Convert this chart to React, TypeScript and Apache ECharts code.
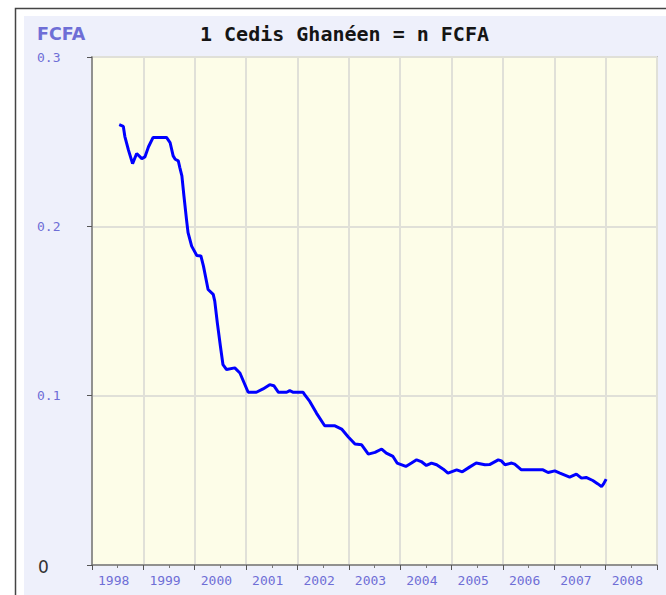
import React, { useEffect, useRef } from "react";
import * as echarts from "echarts";

const TITLE = "1 Cedis Ghanéen = n FCFA";
const UNIT = "FCFA";
const YEAR_LABELS = ["1998", "1999", "2000", "2001", "2002", "2003", "2004", "2005", "2006", "2007", "2008"];

// fractional year of each observation
const DATES = [
  1998.53, 1998.61, 1998.64, 1998.71, 1998.79, 1998.87, 1998.97, 1999.03, 1999.10, 1999.19,
  1999.45, 1999.52, 1999.58, 1999.62, 1999.68, 1999.71, 1999.75, 1999.79, 1999.84, 1999.87,
  1999.94, 2000.04, 2000.12, 2000.17, 2000.26, 2000.36, 2000.39, 2000.44, 2000.50, 2000.55,
  2000.62, 2000.78, 2000.88, 2001.04, 2001.20, 2001.33, 2001.46, 2001.54, 2001.63, 2001.79,
  2001.85, 2001.92, 2002.11, 2002.14, 2002.24, 2002.37, 2002.53, 2002.73, 2002.86, 2002.99,
  2003.12, 2003.25, 2003.38, 2003.51, 2003.64, 2003.73, 2003.86, 2003.94, 2004.11, 2004.22,
  2004.32, 2004.41, 2004.51, 2004.61, 2004.71, 2004.84, 2004.93, 2005.10, 2005.21, 2005.35,
  2005.48, 2005.65, 2005.74, 2005.91, 2005.97, 2006.04, 2006.17, 2006.23, 2006.36, 2006.78,
  2006.88, 2007.01, 2007.11, 2007.30, 2007.43, 2007.53, 2007.62, 2007.75, 2007.85, 2007.92,
  2007.96, 2008.01,
];

// FCFA per Cedi
const RATES = [
  0.260, 0.259, 0.253, 0.245, 0.237, 0.243, 0.240, 0.241, 0.247, 0.2525,
  0.2525, 0.2495, 0.2416, 0.2396, 0.2387, 0.2347, 0.2298, 0.2179, 0.204, 0.1963,
  0.1883, 0.1828, 0.1825, 0.1765, 0.1627, 0.1598, 0.1558, 0.143, 0.1292, 0.1183,
  0.1154, 0.1164, 0.1134, 0.102, 0.102, 0.104, 0.1065, 0.1059, 0.102, 0.102,
  0.103, 0.102, 0.102, 0.1006, 0.0966, 0.0897, 0.0822, 0.0822, 0.0803, 0.0756,
  0.0714, 0.071, 0.0655, 0.0665, 0.0685, 0.0661, 0.0641, 0.0602, 0.0582, 0.0602,
  0.0621, 0.0611, 0.0588, 0.0602, 0.0592, 0.0566, 0.0543, 0.0562, 0.055, 0.0578,
  0.0602, 0.0592, 0.0593, 0.0621, 0.0615, 0.0592, 0.0602, 0.0596, 0.0562, 0.0562,
  0.0546, 0.0556, 0.0543, 0.0519, 0.0537, 0.0513, 0.0517, 0.0499, 0.0479, 0.0463,
  0.0479, 0.0507,
];

const LABEL_COLOR = "#6e6ed6";
const MONO = "'DejaVu Sans Mono', monospace";

export default function App() {
  const ref = useRef<HTMLDivElement>(null);

  useEffect(() => {
    if (!ref.current) return;
    const chart = echarts.init(ref.current, undefined, { renderer: "svg" });
    const data = DATES.map((d, i) => [d, RATES[i]]);
    chart.setOption({
      animation: false,
      graphic: [
        {
          type: "rect",
          z: -10,
          shape: { x: 15.5, y: 8.5, width: 700, height: 700 },
          style: { fill: "#ffffff", stroke: "#444444", lineWidth: 1.5 },
        },
        {
          type: "rect",
          z: -9,
          shape: { x: 24, y: 16, width: 700, height: 700 },
          style: { fill: "#eef0fb" },
        },
      ],
      title: [
        {
          text: TITLE,
          left: 200,
          top: 24,
          padding: 0,
          textStyle: { fontFamily: MONO, fontSize: 20, fontWeight: "bold", color: "#151515", lineHeight: 20 },
        },
        {
          text: UNIT,
          left: 37,
          top: 24,
          padding: 0,
          textStyle: { fontFamily: "'DejaVu Sans', sans-serif", fontSize: 17.5, fontWeight: "bold", color: LABEL_COLOR, lineHeight: 20 },
        },
      ],
      grid: {
        left: 92,
        right: 9,
        top: 57,
        bottom: 30,
        show: true,
        backgroundColor: "#fdfde8",
        borderColor: "#999999",
        borderWidth: 1.5,
      },
      xAxis: [
        {
          type: "value",
          min: 1998,
          max: 2009,
          interval: 1,
          position: "bottom",
          axisLine: { show: true, onZero: false, lineStyle: { color: "#777777", width: 1.5 } },
          axisTick: { show: true, length: 5, lineStyle: { color: "#555555" } },
          minorTick: { show: true, splitNumber: 2, length: 3, lineStyle: { color: "#777777" } },
          axisLabel: { show: false },
          splitLine: { show: true, lineStyle: { color: "#e0e0d8", width: 2 } },
        },
        {
          type: "category",
          data: YEAR_LABELS,
          boundaryGap: true,
          position: "bottom",
          axisLine: { show: false },
          axisTick: { show: false },
          splitLine: { show: false },
          axisLabel: { color: LABEL_COLOR, fontFamily: MONO, fontSize: 13, margin: 9, padding: [0, 8, 0, 0] },
        },
      ],
      yAxis: {
        type: "value",
        min: 0,
        max: 0.3,
        interval: 0.1,
        axisLine: { show: true, lineStyle: { color: "#777777", width: 1.5 } },
        axisTick: { show: true, length: 5, lineStyle: { color: "#555555" } },
        splitLine: { show: true, lineStyle: { color: "#e0e0d8", width: 2 } },
        axisLabel: {
          align: "left",
          margin: 55,
          formatter: (v: number) => (v === 0 ? "{z|0}" : "{n|" + v.toFixed(1) + "}"),
          rich: {
            z: { fontFamily: "'DejaVu Sans', sans-serif", fontSize: 17, color: "#333333", padding: [4, 0, 0, 1] },
            n: { fontFamily: MONO, fontSize: 13, color: LABEL_COLOR },
          },
        },
      },
      series: [
        {
          type: "line",
          xAxisIndex: 0,
          yAxisIndex: 0,
          data,
          showSymbol: false,
          lineStyle: { color: "#0000ff", width: 3 },
          itemStyle: { color: "#0000ff" },
        },
      ],
    });
    return () => chart.dispose();
  }, []);

  return (
    <div
      ref={ref}
      style={{ position: "absolute", left: 0, top: 0, width: 666, height: 595 }}
    />
  );
}
